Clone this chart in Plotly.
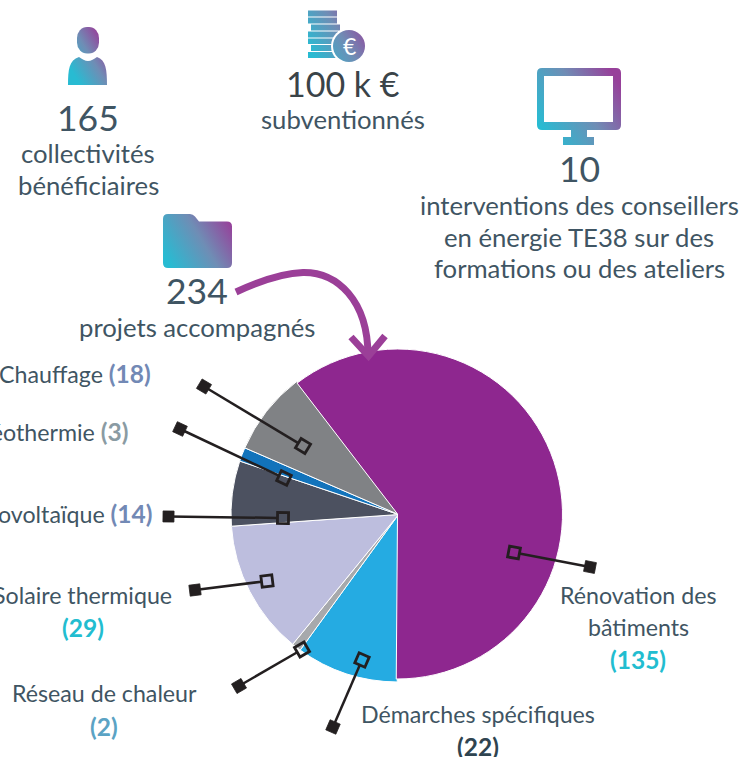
import base64
import math
import plotly.graph_objects as go

W, H = 742, 757

# ---- data ----
categories = ["Rénovation des bâtiments", "Démarches spécifiques", "Réseau de chaleur",
              "Solaire thermique", "Photovoltaïque", "Géothermie", "Chauffage"]
values = [135, 22, 2, 29, 14, 3, 18]
colors = ["#8E278F", "#25ABE2", "#A7A9AC", "#BDBEDE", "#4C5160", "#1273BB", "#808285"]

FONT = "Lato"
TXT = "#3F5563"
INK = "#231F20"

def px(x): return x / W
def py(y): return 1 - y / H

def pie(cx, cy, r, keep):
    return go.Pie(
        labels=categories, values=values, sort=False, direction="clockwise", rotation=-37.5,
        marker=dict(colors=[c if keep(i) else "rgba(0,0,0,0)" for i, c in enumerate(colors)],
                    line=dict(color=["#FFFFFF" if keep(i) else "rgba(0,0,0,0)" for i in range(len(values))], width=1)),
        textinfo="none", hoverinfo="label+value", showlegend=False,
        domain=dict(x=[px(cx - r), px(cx + r)], y=[py(cy + r), py(cy - r)]),
    )

fig = go.Figure([pie(398.5, 514.5, 167.5, lambda i: i != 0), pie(397.5, 514, 165, lambda i: i == 0)])

# ---- leader lines: (inner square) -> (outer filled square) ----
leaders = [
    ((514, 552.5), (590, 567)),
    ((362, 660), (333, 727)),
    ((302, 649.5), (239, 686)),
    ((267, 581), (195, 590)),
    ((283, 518), (168.5, 516.5)),
    ((284, 478), (180, 429)),
    ((303, 446), (204, 386.5)),
]

def square(c, d, half):
    n = math.hypot(*d)
    ux, uy = d[0] / n, d[1] / n
    pts = []
    for a, b in ((-1, -1), (1, -1), (1, 1), (-1, 1)):
        pts.append((c[0] + half * (a * ux - b * uy), c[1] + half * (a * uy + b * ux)))
    return "M" + " L".join(f"{px(x):.5f},{py(y):.5f}" for x, y in pts) + " Z"

shapes = []
for inner, outer in leaders:
    d = (outer[0] - inner[0], outer[1] - inner[1])
    n = math.hypot(*d)
    start = (inner[0] + d[0] / n * 5.5, inner[1] + d[1] / n * 5.5)
    shapes.append(dict(type="line", xref="paper", yref="paper",
                       x0=px(start[0]), y0=py(start[1]), x1=px(outer[0]), y1=py(outer[1]),
                       line=dict(color=INK, width=2.5)))
    shapes.append(dict(type="path", xref="paper", yref="paper", path=square(inner, d, 5.5),
                       line=dict(color=INK, width=2.8), fillcolor="rgba(0,0,0,0)"))
    shapes.append(dict(type="path", xref="paper", yref="paper", path=square(outer, d, 5.5),
                       line=dict(color=INK, width=0.8), fillcolor=INK))

# ---- curved arrow ----
ARROW = "#9B3F98"
def P(*pairs):
    return [f"{px(x):.5f},{py(y):.5f}" for x, y in pairs]
a = P((236, 292), (262, 280), (284, 273), (303, 272.5), (337, 272), (368, 300), (368, 356))
curve = f"M{a[0]} C{a[1]} {a[2]} {a[3]} C{a[4]} {a[5]} {a[6]}"
h = P((351, 337), (368.5, 356), (385, 336))
head = f"M{h[0]} L{h[1]} L{h[2]}"
for path in (curve, head):
    shapes.append(dict(type="path", xref="paper", yref="paper", path=path,
                       line=dict(color=ARROW, width=7), fillcolor="rgba(0,0,0,0)"))

# ---- gradient icons ----
def icon(x0, y0, x1, y1, body, gid):
    w, h_ = x1 - x0, y1 - y0
    cy = (y0 + y1) / 2
    svg = (f'<svg xmlns="http://www.w3.org/2000/svg" width="{w*4}" height="{h_*4}" viewBox="{x0} {y0} {w} {h_}">'
           f'<defs><linearGradient id="{gid}" gradientUnits="userSpaceOnUse" x1="{x0}" y1="{cy + 0.3*w}" x2="{x1}" y2="{cy - 0.3*w}">'
           f'<stop offset="0.08" stop-color="#28BBD2"/><stop offset="0.55" stop-color="#6F8DB5"/>'
           f'<stop offset="0.95" stop-color="#97409A"/></linearGradient></defs>'
           f'<g fill="url(#{gid})">{body}</g></svg>')
    src = "data:image/svg+xml;base64," + base64.b64encode(svg.encode()).decode()
    return dict(source=src, xref="paper", yref="paper", x=px(x0), y=py(y0),
                sizex=w / W, sizey=h_ / H, xanchor="left", yanchor="top",
                sizing="stretch", layer="above")

person = ('<rect x="77" y="27" width="22" height="26.5" rx="10" ry="11"/>'
          '<path d="M68 85 C68 70 69 60 79 57 C82 59 85 61 88 61 C91 61 94 59 97 57 '
          'C106 60 107 70 107 85 Z"/>')
stack = ('<rect x="308" y="10.5" width="29" height="6"/><rect x="308" y="17.5" width="29" height="6"/>'
         '<rect x="311" y="24.5" width="29" height="6"/><rect x="308" y="31.5" width="30" height="6"/>'
         '<rect x="308" y="38.5" width="29" height="5.5"/><rect x="311" y="45" width="26" height="6"/>'
         '<rect x="308" y="52" width="29" height="6"/>'
         '<circle cx="349" cy="46" r="18" fill="#FFFFFF"/><circle cx="349" cy="46" r="16"/>')
folder = ('<path d="M168 214 L190 214 Q193 214 195 216.5 L199 221.5 L227 221.5 Q232 221.5 232 226.5 '
          'L232 263 Q232 268 227 268 L168 268 Q163 268 163 263 L163 219 Q163 214 168 214 Z"/>')
monitor = ('<path fill-rule="evenodd" d="M542 68 L616 68 Q621 68 621 73 L621 125 Q621 130 616 130 L587 130 '
           'L587 137 L594 137 L594 145 L563 145 L563 137 L571 137 L571 130 L542 130 Q537 130 537 125 '
           'L537 73 Q537 68 542 68 Z M544 76 L544 122 L613 122 L613 76 Z"/>')
images = [icon(66, 25, 109, 87, person, "g1"), icon(306, 8, 369, 66, stack, "g2"),
          icon(161, 212, 234, 270, folder, "g3"), icon(535, 66, 623, 147, monitor, "g4")]

# ---- texts ----
BIG = 35.5
TOP = 25.7
LOW = 23.2
def note(x, y, text, size=TOP, color=TXT, anchor="center"):
    return dict(xref="paper", yref="paper", x=px(x), y=py(y), text=text, showarrow=False,
                xanchor=anchor, yanchor="middle", align=anchor,
                font=dict(family=FONT, size=size, color=color))
def val(text, color):
    return f'<b><span style="color:{color};font-size:24.5px">{text}</span></b>'

annotations = [
    note(349.5, 46, "€", 23, "#FFFFFF"),
    note(88, 117.5, "165", BIG), note(88, 153, "collectivités"), note(88, 185, "bénéficiaires"),
    note(343, 83.5, "100 k €", 34, "#3A4348"), note(343, 119, "subventionnés"),
    note(579, 168.5, "10", BIG), note(579, 205, "interventions des conseillers"),
    note(579, 237, "en énergie TE38 sur des"), note(579, 268, "formations ou des ateliers"),
    note(197, 290.5, "234", BIG), note(197, 327, "projets accompagnés"),
    note(153, 373.5, "Chauffage " + val("(18)", "#7289B5"), LOW, anchor="right"),
    note(130, 431.5, "Géothermie " + val("(3)", "#8A9BA3"), LOW, anchor="right"),
    note(154, 513.5, "Photovoltaïque " + val("(14)", "#7289B5"), LOW, anchor="right"),
    note(174, 595, "Solaire thermique", LOW, anchor="right"),
    note(83, 627, val("(29)", "#22BDD0"), LOW),
    note(104, 693, "Réseau de chaleur", LOW), note(104, 726, val("(2)", "#5BA3C4"), LOW),
    note(478, 714, "Démarches spécifiques", LOW), note(478, 746, val("(22)", "#2F4450"), LOW),
    note(638, 595, "Rénovation des", LOW), note(638, 627, "bâtiments", LOW),
    note(638, 659, val("(135)", "#22BDD0"), LOW),
]

fig.update_layout(width=W, height=H, margin=dict(l=0, r=0, t=0, b=0), autosize=False,
                  paper_bgcolor="#FFFFFF", plot_bgcolor="#FFFFFF", showlegend=False,
                  shapes=shapes, images=images, annotations=annotations,
                  font=dict(family=FONT))

fig.write_html("out.html", config={"displayModeBar": False},
               post_script="document.body.style.margin='0';document.body.style.overflow='hidden';")
